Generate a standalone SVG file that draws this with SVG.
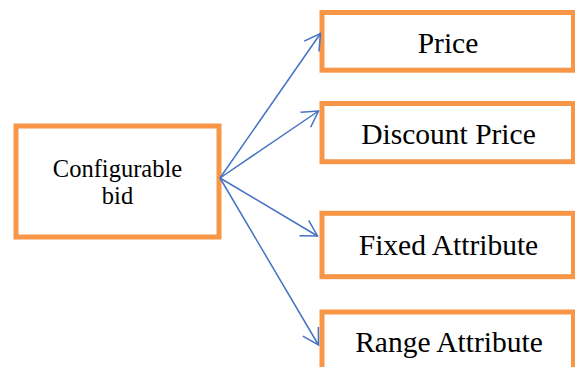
<svg xmlns="http://www.w3.org/2000/svg" width="575" height="367" viewBox="0 0 575 367">
<style>
.box{fill:#fff;stroke:#F79646;stroke-width:5}
.lbl{font-family:"Liberation Serif","Times New Roman",serif;fill:#000;text-anchor:middle}
.big{font-size:29.5px}
.small{font-size:24.5px}
.conn{stroke:#4472C4;stroke-width:1.5;fill:none}
</style>
<defs>
<marker id="arr" markerUnits="userSpaceOnUse" viewBox="-20 -12 22 24" refX="0" refY="0" markerWidth="22" markerHeight="24" orient="auto" overflow="visible">
<path d="M-15.6,-9 L0,0 L-15.6,9" fill="none" stroke="#4472C4" stroke-width="1.5"/>
</marker>
</defs>
<rect width="575" height="367" fill="#fff"/>
<g id="node-bid">
<rect class="box" x="16" y="126" width="203" height="111"/>
<text class="lbl small" x="117.5" y="177">Configurable</text>
<text class="lbl small" x="117.5" y="204">bid</text>
</g>
<g id="node-price">
<rect class="box" x="322" y="12.5" width="251.5" height="57.7"/>
<text class="lbl big" x="448" y="53.3">Price</text>
</g>
<g id="node-discount">
<rect class="box" x="322" y="103.5" width="251.5" height="58.2"/>
<text class="lbl big" x="448.5" y="144">Discount Price</text>
</g>
<g id="node-fixed">
<rect class="box" x="322" y="213.3" width="251.5" height="63.4"/>
<text class="lbl big" x="448.5" y="255">Fixed Attribute</text>
</g>
<g id="node-range">
<rect class="box" x="322" y="312" width="251.5" height="70"/>
<text class="lbl big" x="449" y="351.7">Range Attribute</text>
</g>
<g id="connectors">
<line class="conn" x1="220" y1="178" x2="320.5" y2="33.5" marker-end="url(#arr)"/>
<line class="conn" x1="220" y1="178" x2="318.5" y2="111" marker-end="url(#arr)"/>
<line class="conn" x1="220" y1="178" x2="317.5" y2="236" marker-end="url(#arr)"/>
<line class="conn" x1="220" y1="178" x2="318.5" y2="345" marker-end="url(#arr)"/>
</g>
</svg>
